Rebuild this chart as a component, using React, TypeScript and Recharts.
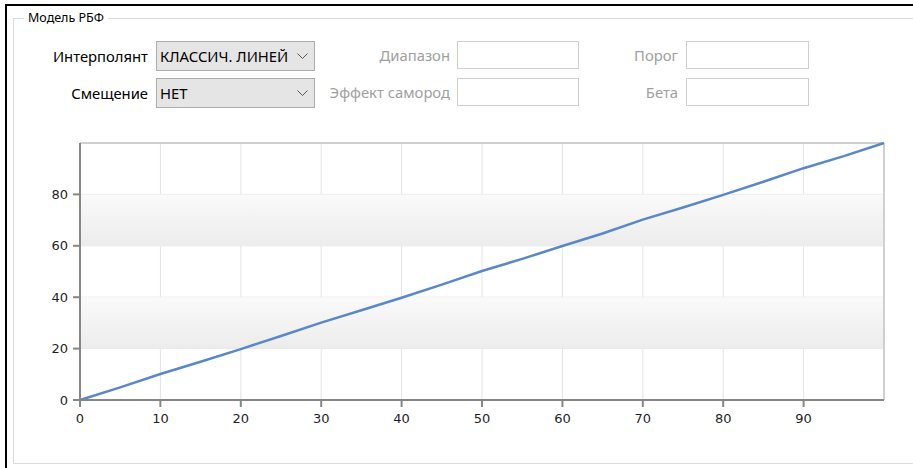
import React from "react";
import {
  LineChart,
  Line,
  XAxis,
  YAxis,
  CartesianGrid,
  ReferenceArea,
  ReferenceLine,
} from "recharts";

// values
const xValues = [0, 5, 10, 15, 20, 25, 30, 35, 40, 45, 50, 55, 60, 65, 70, 75, 80, 85, 90, 95, 100];
const yValues = [0, 4.9, 10.1, 14.9, 19.8, 24.9, 30.1, 34.9, 39.8, 44.9, 50.2, 54.9, 59.9, 64.8, 70.2, 74.9, 79.8, 84.9, 90.2, 94.9, 100];
const xTicks = [0, 10, 20, 30, 40, 50, 60, 70, 80, 90];
const yTicks = [0, 20, 40, 60, 80];
const bands = [
  [20, 40],
  [60, 80],
];

const data = xValues.map((x, i) => ({ x, y: yValues[i] }));

const uiFont = "'Noto Sans', 'DejaVu Sans', sans-serif";
const uiSize = 14.8;

const Combo = ({ left, top, text }: { left: number; top: number; text: string }) => (
  <div
    style={{
      position: "absolute",
      left,
      top,
      width: 154,
      height: 28,
      background: "#e5e5e5",
      border: "1px solid #adadad",
      fontSize: uiSize,
      lineHeight: "28px",
      paddingLeft: 3,
      color: "#000",
      whiteSpace: "nowrap",
    }}
  >
    {text}
    <svg style={{ position: "absolute", right: 6, top: 11 }} width={11} height={7}>
      <polyline points="0.5,0.5 5.5,5.5 10.5,0.5" fill="none" stroke="#555" strokeWidth={1} />
    </svg>
  </div>
);

const TextBox = ({ left, top, w }: { left: number; top: number; w: number }) => (
  <div
    style={{
      position: "absolute",
      left,
      top,
      width: w,
      height: 26,
      background: "#fff",
      border: "1px solid #cfcfcf",
    }}
  />
);

const Label = ({ right, top, text, color }: { right: number; top: number; text: string; color: string }) => (
  <div
    style={{
      position: "absolute",
      left: right - 200,
      width: 200,
      top,
      textAlign: "right",
      fontSize: uiSize,
      color,
      whiteSpace: "nowrap",
    }}
  >
    {text}
  </div>
);

const tickStyle = { fill: "#1f1f2a", fontSize: 13, fontFamily: "'DejaVu Sans', sans-serif" };

export default function App() {
  return (
    <div
      style={{
        position: "fixed",
        left: 0,
        top: 0,
        width: 913,
        height: 468,
        background: "#fff",
        overflow: "hidden",
        fontFamily: uiFont,
      }}
    >
      {/* outer black frame */}
      <div style={{ position: "absolute", left: 5, top: 4, width: 920, height: 2, background: "#000" }} />
      <div style={{ position: "absolute", left: 5, top: 4, width: 2, height: 470, background: "#000" }} />

      {/* group box */}
      <div
        style={{
          position: "absolute",
          left: 13,
          top: 18,
          width: 920,
          height: 444,
          border: "1px solid #dcdcdc",
        }}
      />
      <div
        style={{
          position: "absolute",
          left: 24,
          top: 9,
          padding: "0 4px",
          background: "#fff",
          fontSize: 12.5,
          color: "#000",
        }}
      >
        Модель РБФ
      </div>

      <Label right={148} top={46} text="Интерполянт" color="#000" />
      <Label right={148} top={83} text="Смещение" color="#000" />
      <Combo left={156} top={41} text="КЛАССИЧ. ЛИНЕЙ" />
      <Combo left={156} top={78} text="НЕТ" />

      <Label right={450} top={45} text="Диапазон" color="#a0a0a0" />
      <Label right={450} top={82} text="Эффект самород" color="#a0a0a0" />
      <TextBox left={457} top={41} w={120} />
      <TextBox left={457} top={78} w={120} />

      <Label right={678} top={45} text="Порог" color="#a0a0a0" />
      <Label right={678} top={82} text="Бета" color="#a0a0a0" />
      <TextBox left={686} top={41} w={121} />
      <TextBox left={686} top={78} w={121} />

      <div style={{ position: "absolute", left: 0, top: 120 }}>
        <LineChart
          width={913}
          height={320}
          data={data}
          margin={{ top: 23, right: 29, left: 30, bottom: 10 }}
        >
          <defs>
            <linearGradient id="band" x1="0" y1="0" x2="0" y2="1">
              <stop offset="0%" stopColor="#fafafa" />
              <stop offset="100%" stopColor="#ececec" />
            </linearGradient>
          </defs>
          {bands.map(([a, b]) => (
            <ReferenceArea key={a} y1={a} y2={b} fill="url(#band)" fillOpacity={1} stroke="none" />
          ))}
          <CartesianGrid stroke="#e4e4e4" strokeWidth={1} />
          <ReferenceLine y={100} stroke="#d0d0d0" strokeWidth={2} />
          <ReferenceLine x={100} stroke="#d0d0d0" strokeWidth={2} />
          <XAxis
            type="number"
            dataKey="x"
            domain={[0, 100]}
            ticks={xTicks}
            interval={0}
            height={30}
            tickSize={7}
            tickMargin={7}
            stroke="#868686"
            strokeWidth={2}
            tick={tickStyle}
          />
          <YAxis
            type="number"
            domain={[0, 100]}
            ticks={yTicks}
            interval={0}
            width={50}
            tickSize={7}
            tickMargin={5}
            stroke="#868686"
            strokeWidth={2}
            tick={tickStyle}
          />
          <Line
            type="linear"
            dataKey="y"
            stroke="#5a88c6"
            strokeWidth={2.5}
            dot={false}
            isAnimationActive={false}
          />
        </LineChart>
      </div>
    </div>
  );
}
